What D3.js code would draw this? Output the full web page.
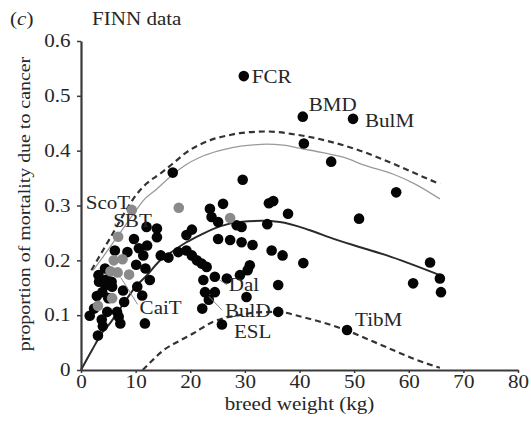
<!DOCTYPE html>
<html>
<head>
<meta charset="utf-8">
<script src="https://cdn.jsdelivr.net/npm/d3@7"></script>
<style>
  body { margin: 0; background: #fff; }
  svg text { font-family: "Liberation Serif", "Times New Roman", serif; fill: #262626; }
</style>
</head>
<body>
<svg id="chart" width="531" height="425"></svg>
<script>
// ---- data -------------------------------------------------------------
// breeds in black (weight kg, proportion of deaths due to cancer)
const blackWeight = [
  1.6, 2.4, 3.1, 4.0, 4.8, 6.6, 7.2, 11.7, 7.9,
  3.3, 4.5, 5.7, 3.9, 5.0, 4.7, 3.2, 4.4,
  10.3, 11.2, 12.6,
  6.2, 8.5, 9.7, 10.6, 12.1, 10.1, 11.8, 11.4,
  12.0, 13.9, 13.9, 14.6, 16.0,
  17.8, 19.3, 20.3, 21.2, 22.1, 23.0, 19.3, 20.3,
  16.8, 29.6,
  23.6, 26.0, 23.9, 25.1, 28.5, 29.4,
  25.1, 27.3, 29.4, 31.4,
  34.4, 35.2, 37.9, 34.1, 34.9, 36.9, 40.7,
  30.9, 30.5, 29.1, 26.7, 24.5, 22.4,
  22.7, 24.5, 23.4, 22.2,
  30.3, 25.8, 36.1, 36.1,
  29.8, 40.6, 49.8, 40.8, 45.8, 57.7, 50.9, 63.9, 60.8, 65.7, 65.9, 48.7,
  5.6, 7.7, 3.8, 2.9, 6.9
];
const blackShare = [
  0.099, 0.112, 0.063, 0.080, 0.106, 0.106, 0.085, 0.085, 0.124,
  0.161, 0.155, 0.152, 0.142, 0.131, 0.165, 0.173, 0.185,
  0.152, 0.136, 0.164,
  0.218, 0.215, 0.239, 0.222, 0.227, 0.192, 0.185, 0.209,
  0.261, 0.258, 0.242, 0.209, 0.205,
  0.215, 0.218, 0.209, 0.200, 0.194, 0.188, 0.246, 0.256,
  0.360, 0.347,
  0.294, 0.303, 0.279, 0.270, 0.264, 0.261,
  0.239, 0.237, 0.233, 0.228,
  0.304, 0.308, 0.285, 0.266, 0.218, 0.209, 0.195,
  0.191, 0.182, 0.173, 0.167, 0.170, 0.164,
  0.142, 0.142, 0.128, 0.112,
  0.133, 0.083, 0.155, 0.106,
  0.536, 0.462, 0.458, 0.413, 0.380, 0.324, 0.276, 0.196, 0.158, 0.167, 0.142, 0.073,
  0.161, 0.145, 0.092, 0.135, 0.097
];
const blackName = blackWeight.map(() => "");
blackName[64] = "Dal";
blackName[66] = "BulD";
blackName[71] = "ESL";
blackName[74] = "FCR";
blackName[75] = "BMD";
blackName[76] = "BulM";
blackName[85] = "TibM";

// breeds in grey
const greyWeight = [9.3, 6.8, 6.0, 7.6, 5.4, 6.7, 8.8, 5.7, 3.1, 17.9, 27.3];
const greyShare  = [0.292, 0.243, 0.200, 0.202, 0.180, 0.178, 0.174, 0.131, 0.117, 0.296, 0.277];
const greyName   = ["ScoT", "SBT", "", "", "", "CaiT", "", "", "", "", ""];

// fitted curve and bands (weight kg, proportion)
const fitWeight = [0, 2, 4, 5.3, 6, 8.4, 10, 12, 14.5, 17, 19.3, 22, 25.4, 29.1, 33, 36.4, 41.9, 46, 51.1, 56, 60.2, 65.7];
const fitShare  = [0, 0.036, 0.07, 0.085, 0.095, 0.13, 0.152, 0.172, 0.2, 0.218, 0.233, 0.247, 0.262, 0.27, 0.272, 0.27, 0.255, 0.24, 0.224, 0.209, 0.194, 0.173];

const upperWeight = [1.9, 4, 6, 8, 10, 12, 14.5, 17, 19.3, 22, 24.2, 27, 29.1, 34, 38.9, 45, 51.1, 57.2, 62, 65.7];
const upperShare  = [0.182, 0.218, 0.252, 0.287, 0.318, 0.34, 0.358, 0.378, 0.397, 0.412, 0.421, 0.428, 0.432, 0.435, 0.43, 0.418, 0.4, 0.376, 0.355, 0.339];

const greyBandWeight = [2.25, 4, 6, 8, 10, 11.4, 13.5, 16.9, 19, 21.8, 25, 27.9, 31, 34, 37, 40.7, 44, 48, 52, 57.2, 61, 65.7];
const greyBandShare  = [0.182, 0.206, 0.234, 0.262, 0.29, 0.309, 0.327, 0.357, 0.373, 0.388, 0.399, 0.406, 0.41, 0.412, 0.41, 0.403, 0.397, 0.388, 0.373, 0.357, 0.34, 0.312];

const lowerWeight = [11.3, 13, 15.1, 18, 20.6, 24.2, 26, 29, 32, 36.1, 40, 43.8, 48.7, 53, 57.2, 61, 65.7];
const lowerShare  = [0, 0.017, 0.036, 0.053, 0.067, 0.088, 0.094, 0.1, 0.105, 0.106, 0.098, 0.088, 0.072, 0.054, 0.036, 0.02, 0.004];

const xTicks = [0, 10, 20, 30, 40, 50, 60, 70, 80];
const yTicks = [0, 0.1, 0.2, 0.3, 0.4, 0.5, 0.6];

// ---- layout -----------------------------------------------------------
const svg = d3.select("#chart");
const x = d3.scaleLinear().domain([0, 80]).range([81, 518]);
const y = d3.scaleLinear().domain([0, 0.6]).range([370, 41]);
const WIDE = 1.17;          // horizontal stretch of the serif lettering
const ink = "#262626";

function place(sel, px, py, rot) {
  sel.attr("transform", `translate(${px},${py})${rot ? ` rotate(${rot})` : ""} scale(${WIDE},1)`);
}

// ---- curves -----------------------------------------------------------
const line = d3.line().x(d => x(d[0])).y(d => y(d[1])).curve(d3.curveMonotoneX);
const zip = (a, b) => a.map((v, i) => [v, b[i]]);

svg.append("path").datum(zip(greyBandWeight, greyBandShare))
  .attr("d", line).attr("fill", "none").attr("stroke", "#9a9a9a").attr("stroke-width", 1.3);
svg.append("path").datum(zip(upperWeight, upperShare))
  .attr("d", line).attr("fill", "none").attr("stroke", "#333").attr("stroke-width", 2.2)
  .attr("stroke-dasharray", "6,4");
svg.append("path").datum(zip(lowerWeight, lowerShare))
  .attr("d", line).attr("fill", "none").attr("stroke", "#333").attr("stroke-width", 2.2)
  .attr("stroke-dasharray", "6,4");
svg.append("path").datum(zip(fitWeight, fitShare))
  .attr("d", line).attr("fill", "none").attr("stroke", "#2a2a2a").attr("stroke-width", 2);

// ---- axes -------------------------------------------------------------
const xAxis = svg.append("g").attr("transform", `translate(0,${y(0)})`)
  .call(d3.axisBottom(x).tickValues(xTicks).tickSize(3).tickSizeOuter(0).tickPadding(2).tickFormat(d3.format("d")));
const yAxis = svg.append("g").attr("transform", `translate(${x(0)},0)`)
  .call(d3.axisLeft(y).tickValues(yTicks).tickSize(4).tickSizeOuter(0).tickPadding(5)
    .tickFormat(d => d === 0 ? "0" : d3.format(".1f")(d)));

[xAxis, yAxis].forEach(g => {
  g.select(".domain").attr("stroke", "#3a3a3a").attr("stroke-width", 2.2);
  g.selectAll(".tick line").attr("stroke", "#3a3a3a").attr("stroke-width", 1.5);
  g.selectAll(".tick text")
    .attr("font-size", 18).attr("fill", ink)
    .style("font-family", '"Liberation Serif", serif')
    .attr("transform", `scale(${WIDE},1)`);
});

// ---- points -----------------------------------------------------------
const black = blackWeight.map((w, i) => ({ w, s: blackShare[i], name: blackName[i], fill: "#050505" }));
const grey = greyWeight.map((w, i) => ({ w, s: greyShare[i], name: greyName[i], fill: "#8a8a8a" }));
const all = black.concat(grey);

svg.append("g").selectAll("circle").data(black).join("circle")
  .attr("cx", d => x(d.w)).attr("cy", d => y(d.s)).attr("r", 5.3).attr("fill", d => d.fill);
svg.append("g").selectAll("circle").data(grey).join("circle")
  .attr("cx", d => x(d.w)).attr("cy", d => y(d.s)).attr("r", 5.3).attr("fill", d => d.fill);

// ---- breed labels -----------------------------------------------------
// offset of the text (px) from its point, text anchor, and optional leader line
const labelStyle = {
  FCR:  { dx: 8,   dy: 7,  anchor: "start" },
  BMD:  { dx: 6,   dy: -6, anchor: "start" },
  BulM: { dx: 12,  dy: 8,  anchor: "start" },
  TibM: { dx: 8,   dy: -4, anchor: "start" },
  ScoT: { dx: -46, dy: -1, anchor: "start" },
  SBT:  { dx: -5,  dy: -10, anchor: "start" },
  CaiT: { dx: 22,  dy: 42, anchor: "start", leader: [-2, -10] },
  Dal:  { dx: 14,  dy: 14, anchor: "start", leader: [-2, -6] },
  BulD: { dx: 20,  dy: 25, anchor: "start", leader: [-3, -7] },
  ESL:  { dx: 12,  dy: 14, anchor: "start" }
};

const labelled = all.filter(d => d.name);
labelled.forEach(d => {
  const st = labelStyle[d.name];
  const px = x(d.w), py = y(d.s);
  if (st.leader) {
    const lx = px + st.dx + st.leader[0], ly = py + st.dy + st.leader[1];
    const len = Math.hypot(lx - px, ly - py);
    const k = (len - 6) / len;
    svg.append("line")
      .attr("x1", lx).attr("y1", ly)
      .attr("x2", lx - (lx - px) * k).attr("y2", ly - (ly - py) * k)
      .attr("stroke", "#8c8c8c").attr("stroke-width", 1);
  }
  svg.append("text").text(d.name)
    .attr("font-size", 18).attr("text-anchor", st.anchor).attr("fill", "#333")
    .call(place, px + st.dx, py + st.dy);
});

// ---- titles -----------------------------------------------------------
svg.append("text").attr("font-size", 18)
  .call(place, 10, 25)
  .html('(<tspan font-style="italic">c</tspan>)');
svg.append("text").attr("font-size", 18).text("FINN data").call(place, 92, 25);

svg.append("text").attr("font-size", 18).attr("text-anchor", "middle")
  .text("breed weight (kg)").call(place, (x(0) + x(80)) / 2, 410);

svg.append("text").attr("font-size", 17).attr("text-anchor", "middle")
  .text("proportion of mortality due to cancer").call(place, 30, 204, -90);
</script>
</body>
</html>
